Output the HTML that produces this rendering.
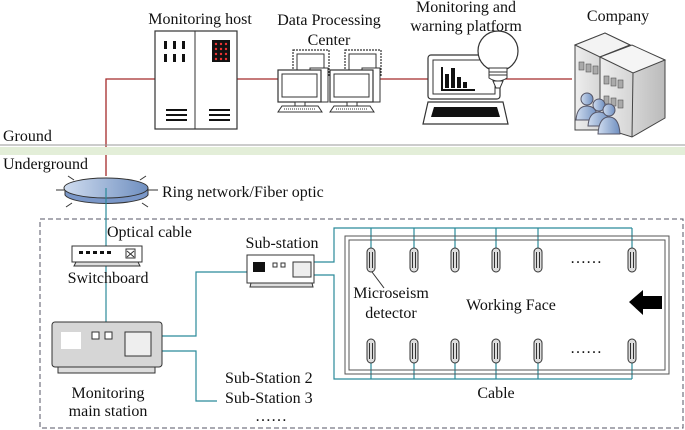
<!DOCTYPE html>
<html><head><meta charset="utf-8"><style>
html,body{margin:0;padding:0;background:#fff;}
svg{display:block;}
text{font-family:"Liberation Serif",serif;font-size:16px;fill:#111;}
</style></head><body>
<svg width="685" height="430" viewBox="0 0 685 430" xmlns="http://www.w3.org/2000/svg">
<defs>
<linearGradient id="gr" x1="0" x2="1"><stop offset="0" stop-color="#eee"/><stop offset="1" stop-color="#bbb"/></linearGradient>
<linearGradient id="bl" x1="0" x2="1"><stop offset="0" stop-color="#cfdcef"/><stop offset="1" stop-color="#6f8fc0"/></linearGradient>
<g id="pc">
<rect x="15" y="-20" width="36" height="26" fill="#fff" stroke="#333" stroke-width="1.2" stroke-dasharray="2,1"/>
<rect x="19" y="-16" width="27" height="17" fill="#fff" stroke="#333"/>
<rect x="32" y="-2" width="18" height="34" fill="#fff" stroke="#333"/>
<rect x="0" y="0" width="43" height="32" fill="#fff" stroke="#333" stroke-width="1.2"/>
<rect x="4" y="4" width="35" height="23" fill="#fff" stroke="#333"/>
<rect x="17" y="32" width="10" height="4" fill="#fff" stroke="#333"/>
<path d="M4 36 H40 L44 42 H0 Z" fill="#fff" stroke="#333"/>
<line x1="6" y1="39" x2="38" y2="39" stroke="#333" stroke-dasharray="1,1"/>
</g>
<g id="det">
<rect x="-4" y="0" width="8" height="24" rx="4" fill="#ddd" stroke="#333"/>
<line x1="-1.5" y1="4" x2="-1.5" y2="20" stroke="#333"/><line x1="1.5" y1="4" x2="1.5" y2="20" stroke="#333"/>
</g>
</defs>

<text x="200" y="24" text-anchor="middle">Monitoring host</text>
<text x="329" y="25" text-anchor="middle">Data Processing</text>
<text x="329" y="45" text-anchor="middle">Center</text>
<text x="466" y="12" text-anchor="middle">Monitoring and</text>
<text x="466" y="31" text-anchor="middle">warning platform</text>
<text x="618" y="21" text-anchor="middle">Company</text>

<g stroke="#a52a2a" stroke-width="1.3" fill="none">
<polyline points="155,79 106,79 106,176"/>
<line x1="237" y1="79" x2="278" y2="79"/>
<line x1="380" y1="79" x2="428" y2="79"/>
<line x1="505" y1="79" x2="572" y2="79"/>
</g>

<rect x="155" y="31" width="82" height="98" fill="#fff" stroke="#333" stroke-width="1.2"/>
<line x1="195" y1="31" x2="195" y2="129" stroke="#333"/>
<g fill="#111">
<rect x="164" y="41" width="3" height="8"/><rect x="173" y="41" width="3" height="8"/><rect x="182" y="41" width="3" height="8"/>
<rect x="164" y="54" width="3" height="8"/><rect x="173" y="54" width="3" height="8"/><rect x="182" y="54" width="3" height="8"/>
<rect x="212" y="40" width="18" height="22"/>
<rect x="166" y="109" width="21" height="2"/><rect x="166" y="114" width="21" height="2"/><rect x="166" y="119" width="21" height="2"/>
<rect x="209" y="109" width="21" height="2"/><rect x="209" y="114" width="21" height="2"/><rect x="209" y="119" width="21" height="2"/>
</g>
<g fill="#e33">
<circle cx="216" cy="44" r="1.2"/><circle cx="221" cy="44" r="1.2"/><circle cx="226" cy="44" r="1.2"/>
<circle cx="216" cy="49" r="1.2"/><circle cx="221" cy="49" r="1.2"/><circle cx="226" cy="49" r="1.2"/>
<circle cx="216" cy="54" r="1.2"/><circle cx="221" cy="54" r="1.2"/><circle cx="226" cy="54" r="1.2"/>
<circle cx="216" cy="59" r="1.2"/><circle cx="221" cy="59" r="1.2"/><circle cx="226" cy="59" r="1.2"/>
</g>

<use href="#pc" x="278" y="70"/>
<use href="#pc" x="330" y="70"/>

<rect x="428" y="55" width="72" height="44" rx="3" fill="#fff" stroke="#333" stroke-width="1.2"/>
<rect x="433" y="60" width="62" height="34" fill="#fff" stroke="#333"/>
<g fill="#111"><rect x="441" y="67" width="2" height="24"/><rect x="441" y="89" width="34" height="2"/>
<rect x="445" y="74" width="4" height="14"/><rect x="451" y="68" width="4" height="20"/><rect x="457" y="77" width="4" height="11"/><rect x="463" y="82" width="4" height="6"/></g>
<path d="M428 102 H503 L508 124 H423 Z" fill="#fff" stroke="#333" stroke-width="1.2"/>
<path d="M434 107 H497 L500 117 H431 Z" fill="#111"/>
<circle cx="498" cy="51" r="20" fill="#fff" stroke="#333" stroke-width="1.2"/>
<path d="M489 68 H507 V78 Q498 84 489 78 Z" fill="#fff" stroke="#333"/>
<line x1="489" y1="72" x2="507" y2="72" stroke="#333"/><line x1="489" y1="75" x2="507" y2="75" stroke="#333"/>
<path d="M493 81 H503 L500 88 H496 Z" fill="#fff" stroke="#333"/>

<path d="M575 45 L605 33 L630 45 L630 130 L575 130 Z" fill="url(#gr)" stroke="#444"/>
<path d="M575 45 L605 33 L630 45 L600 57 Z" fill="#f3f3f3" stroke="#444"/>
<path d="M600 57 L630 45 L665 60 L665 118 L632 137 L600 127 Z" fill="url(#gr)" stroke="#444"/>
<path d="M600 57 L632 45 L665 60 L633 73 Z" fill="#f5f5f5" stroke="#444"/>
<line x1="633" y1="73" x2="632" y2="137" stroke="#444"/>
<g fill="#aaa" stroke="#555" stroke-width="0.6">
<rect x="579" y="62" width="5" height="8"/><rect x="586" y="64" width="5" height="8"/><rect x="593" y="66" width="5" height="8"/>
<rect x="604" y="76" width="5" height="8"/><rect x="611" y="78" width="5" height="8"/><rect x="618" y="80" width="5" height="8"/>
<rect x="604" y="96" width="5" height="8"/><rect x="611" y="98" width="5" height="8"/><rect x="618" y="100" width="5" height="8"/>
</g>
<g fill="url(#bl)" stroke="#556">
<circle cx="587" cy="99" r="6"/><path d="M576 120 Q577 106 587 106 Q597 106 598 120 Z"/>
<circle cx="599" cy="105" r="6"/><path d="M588 126 Q589 112 599 112 Q609 112 610 126 Z"/>
<circle cx="609" cy="110" r="6"/><path d="M598 134 Q599 117 609 117 Q619 117 620 134 Z"/>
</g>

<text x="3" y="141">Ground</text>
<line x1="0" y1="145" x2="685" y2="145" stroke="#999"/>
<rect x="0" y="147" width="685" height="8" fill="#e3eed8"/>
<text x="3" y="169">Underground</text>

<g stroke="#333">
<line x1="56" y1="190" x2="66" y2="190"/><line x1="148" y1="190" x2="158" y2="190"/>
<line x1="68" y1="176" x2="74" y2="180"/><line x1="146" y1="176" x2="140" y2="180"/>
<line x1="66" y1="207" x2="72" y2="203"/><line x1="148" y1="207" x2="142" y2="203"/>
</g>
<path d="M65 188 V195 A42 10 0 0 0 148 195 V188" fill="#7a97c8" stroke="#333"/>
<ellipse cx="106" cy="188" rx="42" ry="10" fill="url(#bl)" stroke="#333"/>
<line x1="106" y1="188" x2="106" y2="205" stroke="#2a8a9a" stroke-width="1.2"/>
<text x="162" y="197">Ring network/Fiber optic</text>

<rect x="40" y="219" width="643" height="209" fill="none" stroke="#556" stroke-dasharray="5,3" stroke-width="1"/>

<g stroke="#2a8a9a" stroke-width="1.2" fill="none">
<line x1="106" y1="205" x2="106" y2="246"/>
<line x1="106" y1="265" x2="106" y2="322"/>
<polyline points="162,336 196,336 196,272 247,272"/>
<polyline points="162,351 196,351 196,401 217,401"/>
<polyline points="314,262 334,262 334,228 632,228"/>
<polyline points="314,275 334,275 334,379 632,379"/>
<line x1="371" y1="228" x2="371" y2="248"/><line x1="414" y1="228" x2="414" y2="248"/><line x1="455" y1="228" x2="455" y2="248"/><line x1="496" y1="228" x2="496" y2="248"/><line x1="538" y1="228" x2="538" y2="248"/><line x1="632" y1="228" x2="632" y2="248"/>
<line x1="371" y1="362" x2="371" y2="379"/><line x1="414" y1="362" x2="414" y2="379"/><line x1="455" y1="362" x2="455" y2="379"/><line x1="496" y1="362" x2="496" y2="379"/><line x1="538" y1="362" x2="538" y2="379"/><line x1="632" y1="362" x2="632" y2="379"/>
</g>

<text x="107" y="237">Optical cable</text>
<rect x="72" y="246" width="70" height="16" fill="#fff" stroke="#333"/>
<path d="M76 262 H138 L140 266 H74 Z" fill="#ddd" stroke="#333"/>
<g fill="#111"><rect x="79" y="251" width="4" height="3"/><rect x="86" y="251" width="4" height="3"/><rect x="93" y="251" width="4" height="3"/><rect x="100" y="251" width="4" height="3"/><rect x="107" y="251" width="4" height="3"/></g>
<rect x="126" y="249" width="9" height="9" fill="#fff" stroke="#333"/>
<path d="M127 251 L134 257 M134 251 L127 257" stroke="#333"/>
<text x="108" y="283" text-anchor="middle">Switchboard</text>

<rect x="52" y="322" width="110" height="45" rx="3" fill="#d6d6d6" stroke="#333"/>
<rect x="58" y="367" width="97" height="6" fill="#ddd" stroke="#333"/>
<rect x="61" y="332" width="20" height="17" fill="#fff"/>
<rect x="92" y="332" width="7" height="7" fill="#fff" stroke="#333"/><rect x="105" y="332" width="7" height="7" fill="#fff" stroke="#333"/>
<rect x="125" y="332" width="26" height="24" fill="#eee" stroke="#333"/>
<text x="108" y="398" text-anchor="middle">Monitoring</text>
<text x="108" y="416" text-anchor="middle">main station</text>

<text x="225" y="383">Sub-Station 2</text>
<text x="225" y="403">Sub-Station 3</text>
<text x="255" y="421">……</text>

<text x="282" y="248" text-anchor="middle">Sub-station</text>
<rect x="247" y="255" width="67" height="28" fill="#fff" stroke="#333"/>
<path d="M251 283 H312 L313 287 H250 Z" fill="#ddd" stroke="#333"/>
<rect x="253" y="262" width="12" height="10" fill="#111"/>
<rect x="273" y="263" width="4" height="4" fill="#fff" stroke="#333"/><rect x="281" y="263" width="4" height="4" fill="#fff" stroke="#333"/>
<rect x="293" y="262" width="18" height="15" fill="#eee" stroke="#333"/>

<rect x="345" y="236" width="324" height="138" fill="none" stroke="#555"/>
<rect x="349" y="240" width="316" height="130" fill="none" stroke="#555"/>
<use href="#det" x="371" y="248"/><use href="#det" x="414" y="248"/><use href="#det" x="455" y="248"/><use href="#det" x="496" y="248"/><use href="#det" x="538" y="248"/><use href="#det" x="632" y="248"/>
<use href="#det" x="371" y="339"/><use href="#det" x="414" y="339"/><use href="#det" x="455" y="339"/><use href="#det" x="496" y="339"/><use href="#det" x="538" y="339"/><use href="#det" x="632" y="339"/>
<text x="570" y="263">……</text>
<text x="570" y="353">……</text>
<line x1="372" y1="272" x2="384" y2="288" stroke="#333"/>
<text x="391" y="298" text-anchor="middle">Microseism</text>
<text x="391" y="318" text-anchor="middle">detector</text>
<text x="511" y="310" text-anchor="middle">Working Face</text>
<path d="M629 302 L643 290 V296 H662 V309 H643 V315 Z" fill="#000"/>
<text x="496" y="398" text-anchor="middle">Cable</text>
</svg>
</body></html>
